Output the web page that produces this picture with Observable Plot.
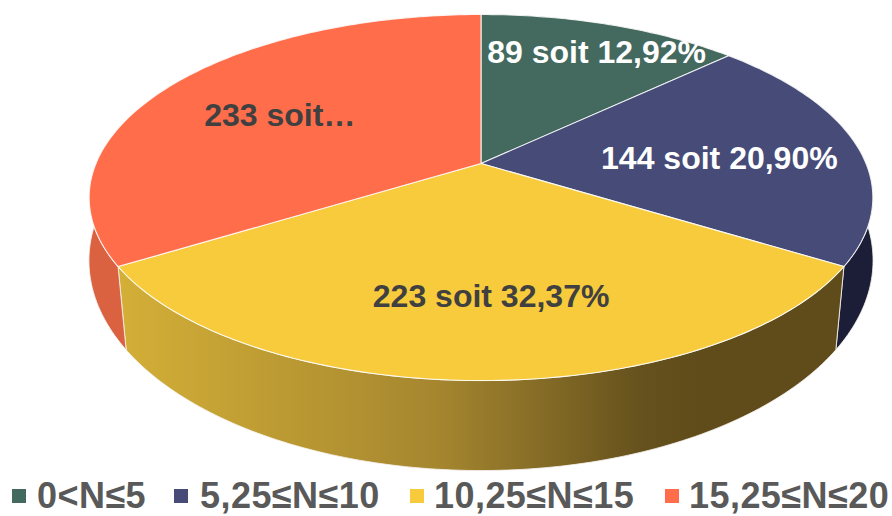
<!DOCTYPE html>
<html><head><meta charset="utf-8">
<script src="https://cdn.jsdelivr.net/npm/d3@7"></script>
<script src="https://cdn.jsdelivr.net/npm/@observablehq/plot@0.6"></script>
<style>
html,body{margin:0;padding:0;background:#fff;overflow:hidden;width:892px;height:516px}
#legend{position:relative;height:36px;font:bold 36px "Liberation Sans",Arial,sans-serif;color:#595959;white-space:nowrap;letter-spacing:.45px}
#legend span{position:absolute;top:-5px;height:41px;line-height:41px;display:block}
#legend i{position:absolute;top:9px;width:14px;height:14px;display:block}
svg{display:block}
</style></head><body>
<div id="chart"></div><div id="legend"></div>
<script>
const categories = ["0<N≤5","5,25≤N≤10","10,25≤N≤15","15,25≤N≤20"];
const counts = [89,144,223,233];
const labels = ["89 soit 12,92%","144 soit 20,90%","223 soit 32,37%","233 soit…"];
const colors = ["#44695E","#464B78","#F7CB3B","#FF6D4A"];
const wallColors = ["#2b4239","#1B1E36","url(#wallGold)","#DB6241"];
const labelColors = ["#fff","#fff","#404040","#404040"];
const labelRadius = [.788,.623,.66,.618];
const labelShift = [2.3,3.3,-2,-2];
const legendSwatchX = [12,174,410,665];
const legendTextX = [37,200,434,689];

// perspective model of a tilted disc: upper face and lower rim
const k=.186, kLow=.13, lowX=1.0097, lowY=1.1686, lowOff=-.3945;
const total=d3.sum(counts);
const rad=d=>d*Math.PI/180;
const project=(deg,r=1)=>{
  const X=r*Math.sin(rad(deg)),Y=r*Math.cos(rad(deg));
  const w=1+k*Y;
  return {x:X/w,y:Y/w};
};
const projectLow=deg=>{
  const X=Math.sin(rad(deg)),Y=Math.cos(rad(deg));
  const w=1+kLow*Y;
  return {x:lowX*X/w,y:lowOff+lowY*Y/w};
};
let acc=0;
const slices=counts.map((c,i)=>{
  const a0=acc/total*360; acc+=c; const a1=acc/total*360;
  const arc=d3.range(a0,a1,1).concat(a1);
  return {a0,a1,mid:(a0+a1)/2,i,
    top:[{x:0,y:0},...arc.map(a=>project(a)),{x:0,y:0}],
    wall:[...arc.map(a=>project(a)),...arc.slice().reverse().map(projectLow),project(a0)]};
});
const textRows=slices.map(s=>({...project(s.mid+labelShift[s.i],labelRadius[s.i]),t:labels[s.i],c:labelColors[s.i]}));

const defs=()=>{
  const s=d3.create("svg:defs");
  const g=s.append("linearGradient").attr("id","wallGold").attr("gradientUnits","userSpaceOnUse")
    .attr("x1",120).attr("x2",700).attr("y1",0).attr("y2",0);
  [[0,"#D3AF37"],[.55,"#A5862F"],[.9,"#65511D"],[1,"#5F4C1A"]].forEach(([o,c])=>g.append("stop").attr("offset",o).attr("stop-color",c));
  return s.node();
};
const lineOpts={x:"x",y:"y"};
const chart=Plot.plot({
  width:892,height:480,margin:0,
  x:{domain:[-480.5/385,411.5/385],range:[0,892],axis:null},
  y:{domain:[163/176.7,-317/176.7],range:[0,480],axis:null},
  style:{background:"#fff"},
  marks:[
    defs,
    ...slices.map(s=>Plot.line(s.wall,{...lineOpts,fill:wallColors[s.i],stroke:"#f4f2ee",strokeWidth:1,strokeOpacity:.85})),
    ...slices.map(s=>Plot.line(s.top,{...lineOpts,fill:colors[s.i],stroke:"#fff",strokeWidth:1.1,strokeOpacity:.85})),
    Plot.text(textRows,{x:"x",y:"y",text:"t",fill:"c",fontSize:32,fontWeight:"bold",fontFamily:"Liberation Sans, Arial, sans-serif"})
  ]
});
document.getElementById("chart").append(chart);
const legend=d3.select("#legend");
categories.forEach((c,i)=>{
  legend.append("i").style("left",legendSwatchX[i]+"px").style("background",colors[i]);
  legend.append("span").style("left",legendTextX[i]+"px").text(c);
});
</script></body></html>
